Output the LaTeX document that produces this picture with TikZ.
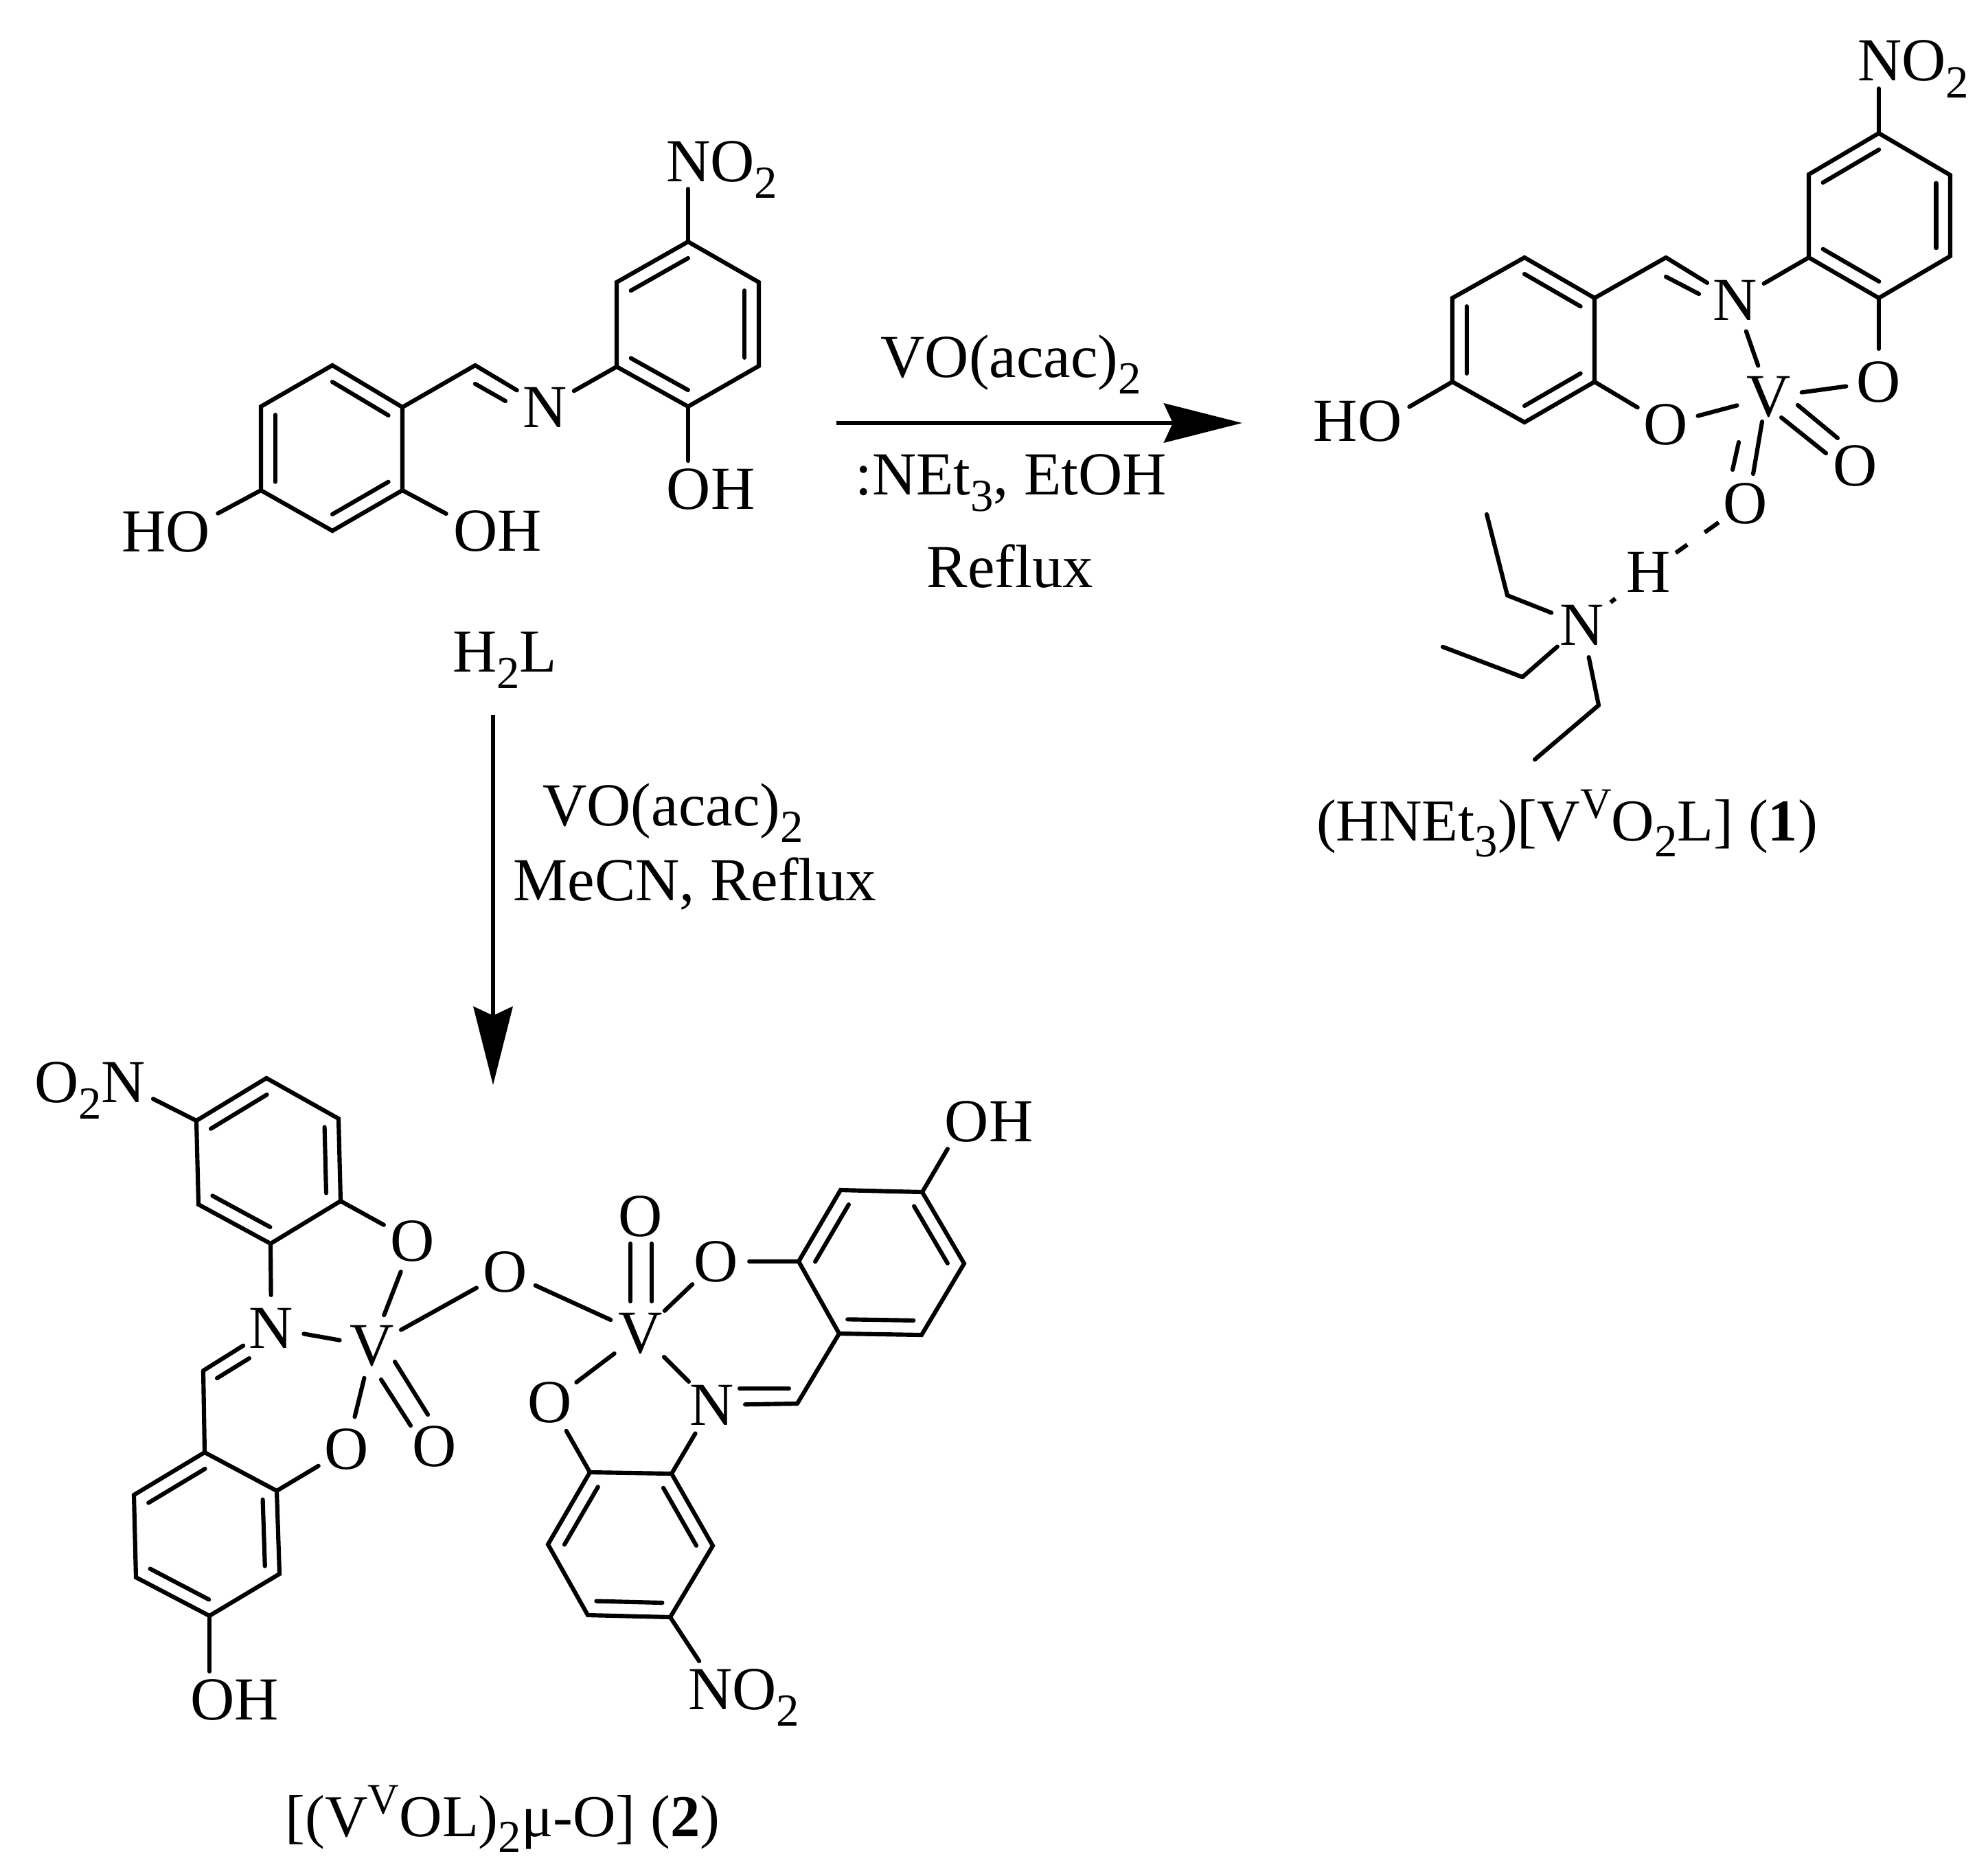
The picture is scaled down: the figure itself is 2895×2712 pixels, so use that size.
\documentclass[tikz,border=0pt]{standalone}
\usepackage{fontspec}
\setmainfont{Liberation Serif}
\usetikzlibrary{arrows.meta, calc}

\newcommand{\lowered}[1]{\raisebox{-.27em}{\fontsize{19}{20}\selectfont #1}}
\newcommand{\raised}[1]{\raisebox{.38em}{\fontsize{18}{20}\selectfont #1}}
\newcommand{\aryl}[1]{
    \draw (#11) -- (#12) -- (#13) -- (#14) -- (#15) -- (#16) -- cycle;
    \coordinate (#1c) at ($(#11)!.5!(#14)$);
    \foreach \p/\q in {1/2,3/4,5/6}
        \draw ($(#1\p)!.2!(#1c)$) -- ($(#1\q)!.2!(#1c)$);
}

\begin{document}
\begin{tikzpicture}[x=.01cm, y=-.01cm, line width=1.75pt, line cap=round,
                node font=\fontsize{25.3}{30}\selectfont,
                atom/.style={circle, inner sep=0pt, minimum size=.9cm},
                group/.style={anchor=base, inner sep=.08cm, text depth=0pt},
                caption/.style={anchor=base, inner sep=0pt},
                compound/.style={caption, node font=\fontsize{24.6}{30}\selectfont},
                rxn/.style={line cap=butt, -{Stealth[length=1.14cm, width=.57cm, inset=.13cm]}}]
        \useasboundingbox (0,0) rectangle (2895,2712);

%% H2L
        \coordinate (a1) at (484,532); \coordinate (a2) at (586,593); \coordinate (a3) at (586,714);
        \coordinate (a4) at (484,773); \coordinate (a5) at (380,714); \coordinate (a6) at (380,592);
        \coordinate (b1) at (898,411); \coordinate (b2) at (1002,352); \coordinate (b3) at (1105,411);
        \coordinate (b4) at (1105,533); \coordinate (b5) at (1002,592); \coordinate (b6) at (898,534);
        \coordinate (imca) at (692,532);
        \aryl{a}
        \aryl{b}
        \node [atom] (na) at (794,593) {N};
        \node [group] (nitroa) at (1051,264) {NO\lowered{2}};
        \node [group] (oha) at (725,802) {OH};
        \node [group] (hoa) at (242,803) {HO};
        \node [group] (ohb) at (1035,741) {OH};
        \node [caption] (ligand) at (735,978) {H\lowered{2}L};
        \path (a2) edge (imca)
              (imca) edge (na)
              ([shift={(0,27)}]imca) edge ([shift={(44,52)}]imca)
              (na) edge (b6)
              (b2) edge (b2 |- nitroa.south)
              (b5) edge (b5 |- ohb.north)
              (a3) edge (oha.162)
              (a5) edge (hoa.19);

%% reaction arrows
        \coordinate (startone) at (1218,616);
        \coordinate (endone) at (1809,616);
        \coordinate (starttwo) at (718,1041);
        \coordinate (endtwo) at (718,1580);
        \path (startone) edge [rxn]
                    node (reagone) [pos=0.43, anchor=base, yshift=.66cm] {VO(acac)\lowered{2}}
                    node (baseone) [pos=0.43, anchor=base, yshift=-1.04cm] {:NEt\lowered{3}, EtOH} (endone)
              (starttwo) edge [rxn] (endtwo);
        \node [caption] (refluxone) at (1471,855) {Reflux};
        \node [caption] (reagtwo) at (980,1202) {VO(acac)\lowered{2}};
        \node [caption] (solvtwo) at (1012,1311) {MeCN, Reflux};

%% complex 1
        \coordinate (c1) at (2220,375); \coordinate (c2) at (2322,434); \coordinate (c3) at (2322,556);
        \coordinate (c4) at (2220,615); \coordinate (c5) at (2115,556); \coordinate (c6) at (2115,434);
        \coordinate (d1) at (2634,254); \coordinate (d2) at (2736,194); \coordinate (d3) at (2840,255);
        \coordinate (d4) at (2840,373); \coordinate (d5) at (2736,434); \coordinate (d6) at (2634,375);
        \coordinate (imcb) at (2426,375);
        \aryl{c}
        \aryl{d}
        \node [atom] (nb) at (2527,437) {N};
        \node [atom] (va) at (2576,578) {V};
        \node [atom] (oc) at (2426,618) {O};
        \node [atom] (od) at (2736,556) {O};
        \node [atom] (oxoa) at (2702,678) {O};
        \node [atom] (oxob) at (2542,733) {O};
        \node [atom] (hb) at (2401,833) {H};
        \node [atom] (nc) at (2304,910) {N};
        \node [group] (nitrob) at (2786,118) {NO\lowered{2}};
        \node [group] (hob) at (1977,642) {HO};
        \node [compound] (compone) at (2282,1224) {(HNEt\lowered{3})[V\raised{V}O\lowered{2}L] (\textbf{1})};
        \coordinate (eta) at (2195,867); \coordinate (etb) at (2165,749);
        \coordinate (etc) at (2217,986); \coordinate (etd) at (2101,942);
        \coordinate (ete) at (2328,1027); \coordinate (etf) at (2235,1106);
        \path (c2) edge (imcb)
              (imcb) edge (nb)
              ([shift={(0,28)}]imcb) edge ([shift={(48,53)}]imcb)
              (nb) edge (d6)
              (d2) edge (d2 |- nitrob.south)
              (c5) edge (hob.15)
              (c3) edge (oc)
              (d5) edge (od)
              (nb) edge (va)
              (oc) edge (va)
              (od) edge (va)
              ([shift={(42,12)}]va.center) edge ([shift={(100,60)}]va.center)
              ([shift={(18,30)}]va.center) edge ([shift={(83,82)}]va.center)
              ([shift={(-10,36)}]va.center) edge ([shift={(-23,112)}]va.center)
              ([shift={(-44,66)}]va.center) edge ([shift={(-53,106)}]va.center)
              (nc) edge (eta) (eta) edge (etb)
              (nc) edge (etc) (etc) edge (etd)
              (nc) edge (ete) (ete) edge (etf);
        \draw [line cap=butt, dash pattern=on .25cm off .31cm] (oxob) -- (hb);
        \draw [line cap=butt, dash pattern=on .09cm off .37cm, dash phase=.32cm] (hb) -- (nc);

%% complex 2
        \coordinate (e1) at (286,1632); \coordinate (e2) at (388,1570); \coordinate (e3) at (493,1629);
        \coordinate (e4) at (496,1749); \coordinate (e5) at (394,1811); \coordinate (e6) at (289,1754);
        \coordinate (f1) at (195,2177); \coordinate (f2) at (298,2115); \coordinate (f3) at (403,2171);
        \coordinate (f4) at (407,2292); \coordinate (f5) at (305,2353); \coordinate (f6) at (198,2297);
        \coordinate (g1) at (1163,1837); \coordinate (g2) at (1224,1733); \coordinate (g3) at (1343,1736);
        \coordinate (g4) at (1404,1840); \coordinate (g5) at (1342,1944); \coordinate (g6) at (1222,1942);
        \coordinate (h1) at (798,2249); \coordinate (h2) at (859,2144); \coordinate (h3) at (978,2146);
        \coordinate (h4) at (1038,2251); \coordinate (h5) at (976,2355); \coordinate (h6) at (856,2352);
        \coordinate (imcc) at (296,1996);
        \coordinate (imcd) at (1161,2044);
        \aryl{e}
        \aryl{f}
        \aryl{g}
        \aryl{h}
        \node [atom] (nd) at (395,1934) {N};
        \node [atom] (vb) at (542,1960) {V};
        \node [atom] (oe) at (601,1807) {O};
        \node [atom] (of) at (505,2110) {O};
        \node [atom] (oxoc) at (633,2106) {O};
        \node [atom] (obridge) at (736,1852) {O};
        \node [atom] (vc) at (933,1942) {V};
        \node [atom] (oxod) at (933,1771) {O};
        \node [atom] (og) at (1043,1837) {O};
        \node [atom] (oh) at (801,2042) {O};
        \node [atom] (ne) at (1037,2046) {N};
        \node [group] (nitroc) at (131,1605) {O\lowered{2}N};
        \node [group] (nitrod) at (1083,2489) {NO\lowered{2}};
        \node [group] (ohc) at (342,2504) {OH};
        \node [group] (ohd) at (1440,1662) {OH};
        \node [compound] (comptwo) at (732,2674) {[(V\raised{V}OL)\lowered{2}μ-O] (\textbf{2})};
        \path (e1) edge (nitroc.-15)
              (e4) edge (oe)
              (e5) edge (nd)
              (nd) edge (imcc)
              ([shift={(20,11)}]imcc) edge ([shift={(67,-18)}]imcc)
              (imcc) edge (f2)
              (f3) edge (of)
              (f5) edge (f5 |- ohc.north)
              (nd) edge (vb)
              (oe) edge (vb)
              (of) edge (vb)
              ([shift={(33,23)}]vb.center) edge ([shift={(81,100)}]vb.center)
              ([shift={(13,49)}]vb.center) edge ([shift={(56,116)}]vb.center)
              (vb) edge (obridge)
              (obridge) edge (vc)
              ([shift={(-15,-47)}]vc.center) edge ([shift={(-15,-131)}]vc.center)
              ([shift={(16,-47)}]vc.center) edge ([shift={(16,-131)}]vc.center)
              (vc) edge (og)
              (vc) edge (oh)
              (vc) edge (ne)
              (og) edge (g1)
              (g3) edge (ohd.214)
              (g6) edge (imcd)
              (imcd) edge (ne)
              ([shift={(-84,-22)}]imcd) edge ([shift={(-12,-22)}]imcd)
              (oh) edge (h2)
              (ne) edge (h3)
              (h5) edge (nitrod.148);
\end{tikzpicture}
\end{document}
